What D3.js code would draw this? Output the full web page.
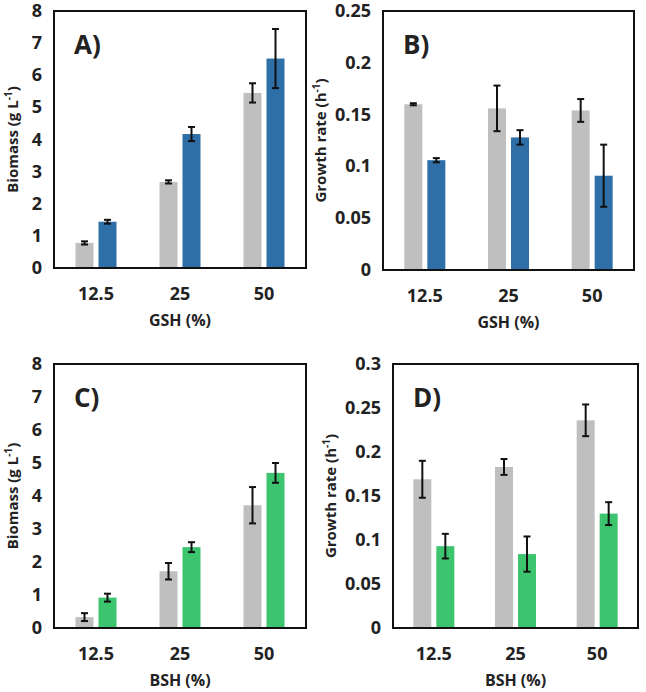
<!DOCTYPE html>
<html><head><meta charset="utf-8">
<script src="https://cdn.jsdelivr.net/npm/d3@7"></script>
<style>body{margin:0;background:#fff}text{font-family:"Open Sans",sans-serif;font-weight:bold;fill:#222}</style>
</head><body><svg id="c" width="646" height="692"></svg>
<script>
// categories and values
const cats = ["12.5", "25", "50"];
const aGray = [0.78, 2.68, 5.45], aGrayErr = [0.05, 0.05, 0.3];
const aBlue = [1.44, 4.17, 6.52], aBlueErr = [0.06, 0.22, 0.92];
const bGray = [0.160, 0.156, 0.154], bGrayErr = [0.001, 0.022, 0.011];
const bBlue = [0.106, 0.128, 0.091], bBlueErr = [0.002, 0.007, 0.03];
const cGray = [0.33, 1.72, 3.72], cGrayErr = [0.12, 0.25, 0.55];
const cGreen = [0.92, 2.45, 4.7], cGreenErr = [0.12, 0.15, 0.3];
const dGray = [0.169, 0.183, 0.236], dGrayErr = [0.021, 0.009, 0.018];
const dGreen = [0.093, 0.084, 0.130], dGreenErr = [0.014, 0.02, 0.013];
const bioTicks = [0,1,2,3,4,5,6,7,8];
const bTicks = [0,0.05,0.1,0.15,0.2,0.25];
const dTicks = [0,0.05,0.1,0.15,0.2,0.25,0.3];

const svg = d3.select("#c");

function panel(o){
  const g = svg.append("g");
  const x = d3.scaleBand().domain(cats).range([o.x0, o.x1]);
  const y = d3.scaleLinear().domain([0, o.max]).range([o.y1, o.y0]);
  const bw = 18;
  [[o.s1, o.e1, "#bfbfbf", -11.5], [o.s2, o.e2, o.col, 11.5]].forEach(function(s){
    cats.forEach(function(c, i){
      const cx = x(c) + x.bandwidth()/2 + s[3];
      g.append("rect").attr("x", cx - bw/2).attr("width", bw)
        .attr("y", y(s[0][i])).attr("height", y(0) - y(s[0][i])).attr("fill", s[2]);
      const lo = y(s[0][i] - s[1][i]), hi = y(s[0][i] + s[1][i]);
      g.append("line").attr("x1", cx).attr("x2", cx).attr("y1", lo).attr("y2", hi).attr("stroke", "#111").attr("stroke-width", 2);
      [lo, hi].forEach(function(v){
        g.append("line").attr("x1", cx-3.5).attr("x2", cx+3.5).attr("y1", v).attr("y2", v).attr("stroke", "#111").attr("stroke-width", 2);
      });
    });
  });
  g.append("rect").attr("x", o.x0).attr("y", o.y0).attr("width", o.x1-o.x0).attr("height", o.y1-o.y0)
    .attr("fill", "none").attr("stroke", "#111").attr("stroke-width", 2);
  o.ticks.forEach(function(t){
    g.append("text").attr("x", o.x0 - 12).attr("y", y(t) + 6).attr("text-anchor", "end")
      .attr("font-size", 18).text(t);
  });
  cats.forEach(function(c){
    g.append("text").attr("x", x(c) + x.bandwidth()/2).attr("y", o.y1 + 32).attr("text-anchor", "middle")
      .attr("font-size", 18).text(c);
  });
  g.append("text").attr("x", (o.x0+o.x1)/2).attr("y", o.y1 + 58).attr("text-anchor", "middle")
    .attr("font-size", 16).text(o.xt);
  const yt = g.append("text").attr("transform", "translate(" + (o.x0 - o.yoff) + "," + ((o.y0+o.y1)/2) + ") rotate(-90)")
    .attr("text-anchor", "middle").attr("font-size", 15);
  yt.append("tspan").text(o.yt);
  yt.append("tspan").attr("font-size", 10).attr("dy", -6).text(o.sup);
  yt.append("tspan").attr("dy", 6).text(")");
  g.append("text").attr("x", o.x0 + 20).attr("y", o.y0 + 43).attr("font-size", 26).text(o.lab);
}

panel({x0:54, x1:306, y0:11, y1:268, max:8, ticks:bioTicks, s1:aGray, e1:aGrayErr, s2:aBlue, e2:aBlueErr,
  col:"#2e6fa7", xt:"GSH (%)", yt:"Biomass (g L", sup:"-1", lab:"A)", yoff:36});
panel({x0:383, x1:634, y0:11, y1:270, max:0.25, ticks:bTicks, s1:bGray, e1:bGrayErr, s2:bBlue, e2:bBlueErr,
  col:"#2e6fa7", xt:"GSH (%)", yt:"Growth rate (h", sup:"-1", lab:"B)", yoff:57});
panel({x0:54, x1:306, y0:364, y1:628, max:8, ticks:bioTicks, s1:cGray, e1:cGrayErr, s2:cGreen, e2:cGreenErr,
  col:"#3cc46e", xt:"BSH (%)", yt:"Biomass (g L", sup:"-1", lab:"C)", yoff:36});
panel({x0:393, x1:638, y0:364, y1:628, max:0.3, ticks:dTicks, s1:dGray, e1:dGrayErr, s2:dGreen, e2:dGreenErr,
  col:"#3cc46e", xt:"BSH (%)", yt:"Growth rate (h", sup:"-1", lab:"D)", yoff:57});
</script></body></html>
